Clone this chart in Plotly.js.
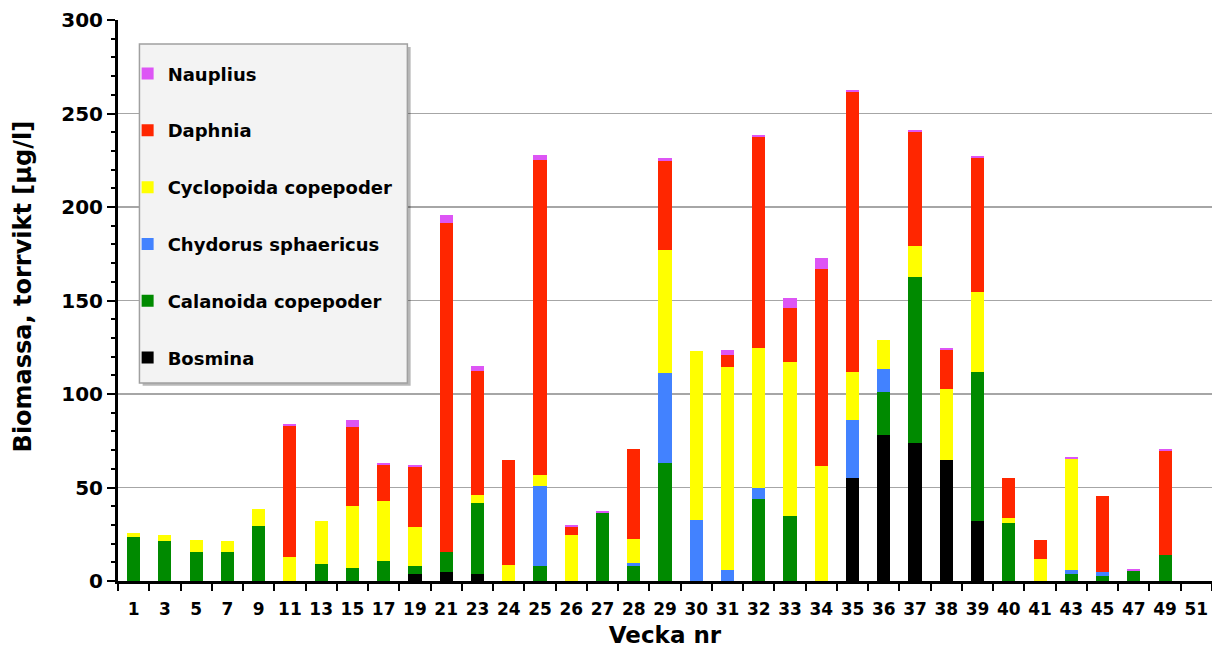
<!DOCTYPE html>
<html>
<head>
<meta charset="utf-8">
<script src="https://cdn.plot.ly/plotly-3.0.1.min.js"></script>
<style>
html,body{margin:0;padding:0;background:#fff;}
#chart{width:1212px;height:648px;}
</style>
</head>
<body>
<div id="chart"></div>
<script>
var weeks = ['1','3','5','7','9','11','13','15','17','19','21','23','24','25','26','27','28','29','30','31','32','33','34','35','36','37','38','39','40','41','43','45','47','49','51'];

var bosmina    = [0,0,0,0,0,0,0,0,0,3.6,4.6,3.9,0,0,0,0,0,0,0,0,0,0,0,54.9,78.2,74,64.7,32.2,0,0,0,0,0,0,0];
var calanoida  = [23.7,21.4,15.5,15.5,29.6,0,9.3,6.8,10.5,4.4,11.1,38,0,8,0,36.5,8.2,63.3,0,0,43.7,34.9,0,0,23,88.7,0,79.4,31.2,0,3.9,2.8,5.3,13.7,0];
var chydorus   = [0,0,0,0,0,0,0,0,0,0,0,0,0,43,0,0,1.4,48.1,32.4,5.9,6.2,0,0,31,12,0,0,0,0,0,2,2.2,0,0,0];
var cyclopoida = [2,3.4,6.3,6,8.9,12.7,22.8,33.3,32.3,21,0,4.3,8.4,5.8,24.4,0,12.7,65.4,90.8,108.7,74.9,82,61.5,25.7,15.7,16.6,38,42.8,2.5,11.8,59.5,0,0,0,0];
var daphnia    = [0,0,0,0,0,70.3,0,42.4,19.4,32.1,175.9,66.3,56.3,168.5,4.6,0,48.1,48,0,6.3,112.6,29.3,105.5,149.9,0,60.8,21,71.8,21.4,10.3,0,40.6,0,56,0];
var nauplius   = [0,0,0,0,0,1.1,0,3.6,1.1,0.9,3.9,2.5,0,2.5,1.1,1.1,0,1.2,0,2.4,1.1,5,5.9,0.9,0,0.9,0.9,0.9,0,0,1.1,0,1.1,1.1,0];

var seriesNames  = ['Bosmina','Calanoida copepoder','Chydorus sphaericus','Cyclopoida copepoder','Daphnia','Nauplius'];
var seriesValues = [bosmina, calanoida, chydorus, cyclopoida, daphnia, nauplius];
var seriesColors = ['#000000','#008a00','#4282ff','#ffff00','#ff2600','#dd55f5'];

var xTitle = 'Vecka nr';
var yTitle = 'Biomassa, torrvikt [µg/l]';

var traces = seriesNames.map(function(n,i){
  return {
    type:'bar', name:n, x:weeks, y:seriesValues[i],
    legendgroup:'g'+i,
    legendrank: seriesNames.length - i,
    marker:{color:seriesColors[i], line:{width:0}},
    hoverinfo:'x+y+name'
  };
});

var F = 'DejaVu Sans, Verdana, sans-serif';

var layout = {
  width:1212, height:648,
  margin:{l:117.5, r:0, t:20, b:67},
  paper_bgcolor:'#ffffff', plot_bgcolor:'#ffffff',
  barmode:'stack', bargap:0.58,
  font:{family:F, color:'#000', size:16},
  showlegend:true,
  legend:{
    x:0.0088, y:0.937, xanchor:'left', yanchor:'top',
    bgcolor:'rgba(0,0,0,0)', borderwidth:0,
    traceorder:'grouped', tracegroupgap:30.4,
    font:{family:F, size:18, color:'#000', weight:'bold'},
    itemwidth:30
  },
  xaxis:{
    type:'category',
    showline:true, linecolor:'#000', linewidth:3,
    ticks:'outside', tickson:'boundaries', ticklen:7, tickwidth:2, tickcolor:'#000',
    tickangle:0, ticklabelstandoff:11,
    showgrid:false, zeroline:false,
    tickfont:{family:F, size:17, color:'#000', weight:'bold'},
    title:{text:xTitle, font:{family:F, size:23, color:'#000', weight:'bold'}, standoff:10},
    fixedrange:true
  },
  yaxis:{
    range:[0,300], dtick:50, tick0:0,
    showline:true, linecolor:'#000', linewidth:3,
    ticks:'outside', ticklen:8, tickwidth:2, tickcolor:'#000',
    minor:{dtick:10, tick0:0, ticks:'outside', ticklen:4, tickwidth:2, tickcolor:'#000', showgrid:false},
    showgrid:true, gridcolor:'#a6a6a6', gridwidth:1.5,
    zeroline:false,
    tickfont:{family:F, size:20, color:'#000', weight:'bold'},
    fixedrange:true
  },
  annotations:[
    {text:yTitle, textangle:-90, xref:'paper', yref:'paper', x:-0.0873, y:0.526,
     xanchor:'center', yanchor:'middle', showarrow:false,
     font:{family:F, size:24, color:'#000', weight:'bold'}}
  ],
  shapes:[
    {type:'rect', xref:'paper', yref:'paper', x0:0.0225, x1:0.2675, y0:0.348, y1:0.952,
     fillcolor:'rgba(0,0,0,0.28)', line:{width:0}, layer:'above'},
    {type:'rect', xref:'paper', yref:'paper', x0:0.0196, x1:0.2645, y0:0.353, y1:0.957,
     fillcolor:'#f3f3f3', line:{color:'#a0a0a0', width:1.5}, layer:'above'}
  ]
};

Plotly.newPlot('chart', traces, layout, {displayModeBar:false, staticPlot:true});
</script>
</body>
</html>
